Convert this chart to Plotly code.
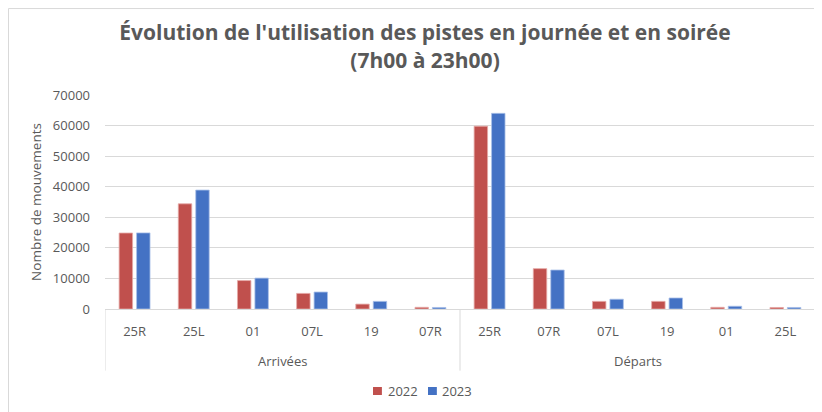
import plotly.graph_objects as go

groups = ["Arrivées"] * 6 + ["Départs"] * 6
pistes = ["25R", "25L", "01", "07L", "19", "07R", "25R", "07R", "07L", "19", "01", "25L"]
v2022 = [24850, 34400, 9300, 5100, 1600, 550, 59800, 13200, 2500, 2500, 550, 500]
v2023 = [24900, 38900, 10100, 5550, 2500, 500, 64000, 12750, 3200, 3600, 900, 500]
y_ticks = [0, 10000, 20000, 30000, 40000, 50000, 60000, 70000]
series_names = ["2022", "2023"]

FONT = "Open Sans"
GREY = "#595959"
LINE = "#D9D9D9"
RED = "#C0504D"
BLUE = "#4472C4"

pos = list(range(len(pistes)))

fig = go.Figure()
fig.add_trace(go.Bar(x=pos, y=v2022, name=series_names[0],
                     marker=dict(color=RED, line=dict(color="#E6A9A7", width=0.8))))
fig.add_trace(go.Bar(x=pos, y=v2023, name=series_names[1],
                     marker=dict(color=BLUE, line=dict(color="#A9C0E8", width=0.8))))

fig.update_layout(
    width=814, height=404,
    margin=dict(l=97, r=7, t=87, b=103, autoexpand=False),
    paper_bgcolor="white", plot_bgcolor="white",
    font=dict(family=FONT, color=GREY, size=13),
    title=dict(text="Évolution de l'utilisation des pistes en journée et en soirée<br>(7h00 à 23h00)",
               x=0.5123, xanchor="center", y=0.92, yanchor="middle",
               font=dict(family=FONT, size=21, color=GREY, weight="bold")),
    barmode="group", bargap=0.41, bargroupgap=0.23,
    showlegend=False,
)
fig.update_yaxes(range=[0, 70000], tickvals=y_ticks, tickformat="d", showgrid=True,
                 gridcolor=LINE, gridwidth=1, zeroline=False, showline=False, ticks="",
                 tickfont=dict(size=13, color=GREY), ticklabelstandoff=14,
                 title=dict(text="Nombre de mouvements", font=dict(size=13.5, color=GREY), standoff=8))
fig.update_xaxes(range=[-0.5, len(pistes) - 0.5], tickvals=pos, ticktext=pistes,
                 showline=True, linecolor=LINE, linewidth=1, showgrid=False, zeroline=False,
                 ticks="", tickfont=dict(size=13, color=GREY), ticklabelstandoff=10)

# group labels and dividers
group_names = []
for g in groups:
    if g not in group_names:
        group_names.append(g)
bounds = [-0.5]
for g in group_names:
    idx = [i for i, gg in enumerate(groups) if gg == g]
    fig.add_annotation(x=(idx[0] + idx[-1]) / 2, y=-0.2416, xref="x", yref="paper",
                       text=g, showarrow=False, font=dict(size=13, color=GREY),
                       yanchor="middle")
    bounds.append(idx[-1] + 0.5)
for b in bounds:
    fig.add_shape(type="line", xref="x", yref="paper", x0=b, x1=b, y0=0, y1=-0.288,
                  line=dict(color=LINE, width=1))

# legend (drawn below the chart, Excel style)
legend_items = [(series_names[0], RED, 0.3775, 0.3958), (series_names[1], BLUE, 0.4549, 0.4718)]
for name, col, sx, tx in legend_items:
    fig.add_shape(type="rect", xref="paper", yref="paper", x0=sx, x1=sx + 0.0125,
                  y0=-0.3645, y1=-0.4019, fillcolor=col, line=dict(width=0))
    fig.add_annotation(x=tx, y=-0.3832, xref="paper", yref="paper", text=name,
                       showarrow=False, xanchor="left", yanchor="middle",
                       font=dict(size=13, color=GREY))

# chart frame
fig.add_shape(type="line", xref="paper", yref="paper", x0=-0.1359, x1=1.0, y0=1.404, y1=1.404,
              line=dict(color=LINE, width=1))
fig.add_shape(type="line", xref="paper", yref="paper", x0=-0.1359, x1=-0.1359, y0=1.404, y1=-0.5,
              line=dict(color=LINE, width=1))
fig.write_html("out.html")
